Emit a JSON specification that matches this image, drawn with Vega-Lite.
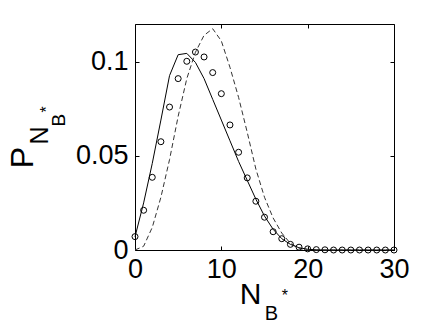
{
  "$schema": "https://vega.github.io/schema/vega-lite/v6.json",
  "width": 259,
  "height": 226,
  "autosize": {"type": "none"},
  "padding": {"left": 135, "top": 24, "right": 42, "bottom": 77},
  "background": "white",
  "config": {
    "view": {"stroke": "#000", "strokeWidth": 1},
    "font": "Liberation Sans",
    "axis": {
      "grid": false,
      "domain": false,
      "labelFont": "Liberation Sans",
      "titleFont": "Liberation Sans",
      "labelColor": "#000",
      "titleColor": "#000",
      "tickColor": "#000",
      "tickWidth": 1,
      "labelFontWeight": "normal",
      "titleFontWeight": "normal"
    }
  },
  "datasets": {
    "solid": [
      {"n": 0, "p": 0.007}, {"n": 1, "p": 0.025}, {"n": 2, "p": 0.046}, {"n": 3, "p": 0.069},
      {"n": 4, "p": 0.0926}, {"n": 5, "p": 0.1037}, {"n": 6, "p": 0.1044}, {"n": 7, "p": 0.0996},
      {"n": 8, "p": 0.091}, {"n": 9, "p": 0.08}, {"n": 10, "p": 0.069}, {"n": 11, "p": 0.058},
      {"n": 12, "p": 0.047}, {"n": 13, "p": 0.037}, {"n": 14, "p": 0.027}, {"n": 15, "p": 0.018},
      {"n": 16, "p": 0.011}, {"n": 17, "p": 0.006}, {"n": 18, "p": 0.003}, {"n": 19, "p": 0.0012},
      {"n": 20, "p": 0.0004}, {"n": 21, "p": 0.0001}, {"n": 22, "p": 0}, {"n": 23, "p": 0},
      {"n": 24, "p": 0}, {"n": 25, "p": 0}, {"n": 26, "p": 0}, {"n": 27, "p": 0},
      {"n": 28, "p": 0}, {"n": 29, "p": 0}, {"n": 30, "p": 0}
    ],
    "dashed": [
      {"n": 0, "p": 0}, {"n": 1, "p": 0.002}, {"n": 2, "p": 0.012}, {"n": 3, "p": 0.028},
      {"n": 4, "p": 0.048}, {"n": 5, "p": 0.071}, {"n": 6, "p": 0.091}, {"n": 7, "p": 0.105},
      {"n": 8, "p": 0.114}, {"n": 9, "p": 0.1175}, {"n": 10, "p": 0.111}, {"n": 11, "p": 0.097},
      {"n": 12, "p": 0.081}, {"n": 13, "p": 0.0625}, {"n": 14, "p": 0.043}, {"n": 15, "p": 0.028},
      {"n": 16, "p": 0.017}, {"n": 17, "p": 0.009}, {"n": 18, "p": 0.0035}, {"n": 19, "p": 0.001},
      {"n": 20, "p": 0}, {"n": 21, "p": 0}, {"n": 22, "p": 0}, {"n": 23, "p": 0},
      {"n": 24, "p": 0}, {"n": 25, "p": 0}, {"n": 26, "p": 0}, {"n": 27, "p": 0},
      {"n": 28, "p": 0}, {"n": 29, "p": 0}, {"n": 30, "p": 0}
    ],
    "circles": [
      {"n": 0, "p": 0.0071}, {"n": 1, "p": 0.0211}, {"n": 2, "p": 0.0386}, {"n": 3, "p": 0.0575},
      {"n": 4, "p": 0.0759}, {"n": 5, "p": 0.091}, {"n": 6, "p": 0.1002}, {"n": 7, "p": 0.1051},
      {"n": 8, "p": 0.1025}, {"n": 9, "p": 0.0942}, {"n": 10, "p": 0.083}, {"n": 11, "p": 0.0664},
      {"n": 12, "p": 0.0519}, {"n": 13, "p": 0.0383}, {"n": 14, "p": 0.0259}, {"n": 15, "p": 0.0174},
      {"n": 16, "p": 0.0097}, {"n": 17, "p": 0.006}, {"n": 18, "p": 0.003}, {"n": 19, "p": 0.0015},
      {"n": 20, "p": 0.0006}, {"n": 21, "p": 0.0002}, {"n": 22, "p": 0.0001}, {"n": 23, "p": 0},
      {"n": 24, "p": 0}, {"n": 25, "p": 0}, {"n": 26, "p": 0}, {"n": 27, "p": 0},
      {"n": 28, "p": 0}, {"n": 29, "p": 0}, {"n": 30, "p": 0}
    ]
  },
  "layer": [
    {
      "data": {"name": "solid"},
      "mark": {"type": "line", "color": "#000", "strokeWidth": 1},
      "encoding": {
        "x": {
          "field": "n", "type": "quantitative",
          "scale": {"domain": [0, 30], "nice": false, "zero": false},
          "axis": {
            "orient": "bottom", "values": [0, 10, 20, 30], "format": "d",
            "tickSize": -4, "labelPadding": 10, "labelFontSize": 27,
            "labelFlush": false, "labelOverlap": false,
            "title": "N", "titleFontSize": 30, "titleX": 115, "titleY": 53,
            "titleAlign": "center", "titleBaseline": "alphabetic"
          }
        },
        "y": {
          "field": "p", "type": "quantitative",
          "scale": {"domain": [0, 0.12], "nice": false},
          "axis": {
            "orient": "left", "values": [0, 0.05, 0.1], "format": "~g",
            "tickSize": -4, "labelPadding": 11, "labelFontSize": 27,
            "labelFlush": false, "labelOverlap": false,
            "title": "P", "titleFontSize": 32, "titleX": -103, "titleY": 133,
            "titleAlign": "center", "titleBaseline": "alphabetic"
          }
        }
      }
    },
    {
      "data": {"name": "dashed"},
      "mark": {"type": "line", "color": "#333", "strokeWidth": 1, "strokeDash": [5, 3]},
      "encoding": {
        "x": {
          "field": "n", "type": "quantitative",
          "axis": {"orient": "top", "values": [0, 10, 20, 30], "tickSize": -4, "labels": false, "title": null}
        },
        "y": {
          "field": "p", "type": "quantitative",
          "axis": {"orient": "right", "values": [0, 0.05, 0.1], "tickSize": -4, "labels": false, "title": null}
        }
      }
    },
    {
      "data": {"name": "circles"},
      "mark": {"type": "point", "shape": "circle", "filled": false, "size": 36, "stroke": "#000", "strokeWidth": 1, "opacity": 1},
      "encoding": {
        "x": {"field": "n", "type": "quantitative", "axis": null},
        "y": {"field": "p", "type": "quantitative", "axis": null}
      }
    },
    {
      "data": {"values": [{}]},
      "mark": {"type": "text", "text": "N", "fontSize": 25, "angle": 270, "align": "center", "baseline": "alphabetic", "color": "#000"},
      "encoding": {
        "x": {"datum": -10.07, "type": "quantitative", "axis": null},
        "y": {"datum": 0.0608, "type": "quantitative", "axis": null}
      }
    },
    {
      "data": {"values": [{}]},
      "mark": {"type": "text", "text": "B", "fontSize": 19, "angle": 270, "align": "center", "baseline": "alphabetic", "color": "#000"},
      "encoding": {
        "x": {"datum": -8.1, "type": "quantitative", "axis": null},
        "y": {"datum": 0.069, "type": "quantitative", "axis": null}
      }
    },
    {
      "data": {"values": [{}]},
      "mark": {"type": "text", "text": "*", "fontSize": 16, "angle": 270, "align": "center", "baseline": "alphabetic", "color": "#000"},
      "encoding": {
        "x": {"datum": -9.6, "type": "quantitative", "axis": null},
        "y": {"datum": 0.0746, "type": "quantitative", "axis": null}
      }
    },
    {
      "data": {"values": [{}]},
      "mark": {"type": "text", "text": "B", "fontSize": 20, "align": "center", "baseline": "alphabetic", "color": "#000"},
      "encoding": {
        "x": {"datum": 15.8, "type": "quantitative", "axis": null},
        "y": {"datum": -0.0372, "type": "quantitative", "axis": null}
      }
    },
    {
      "data": {"values": [{}]},
      "mark": {"type": "text", "text": "*", "fontSize": 16, "align": "center", "baseline": "alphabetic", "color": "#000"},
      "encoding": {
        "x": {"datum": 17.36, "type": "quantitative", "axis": null},
        "y": {"datum": -0.0271, "type": "quantitative", "axis": null}
      }
    }
  ],
  "resolve": {"axis": {"x": "independent", "y": "independent"}}
}
